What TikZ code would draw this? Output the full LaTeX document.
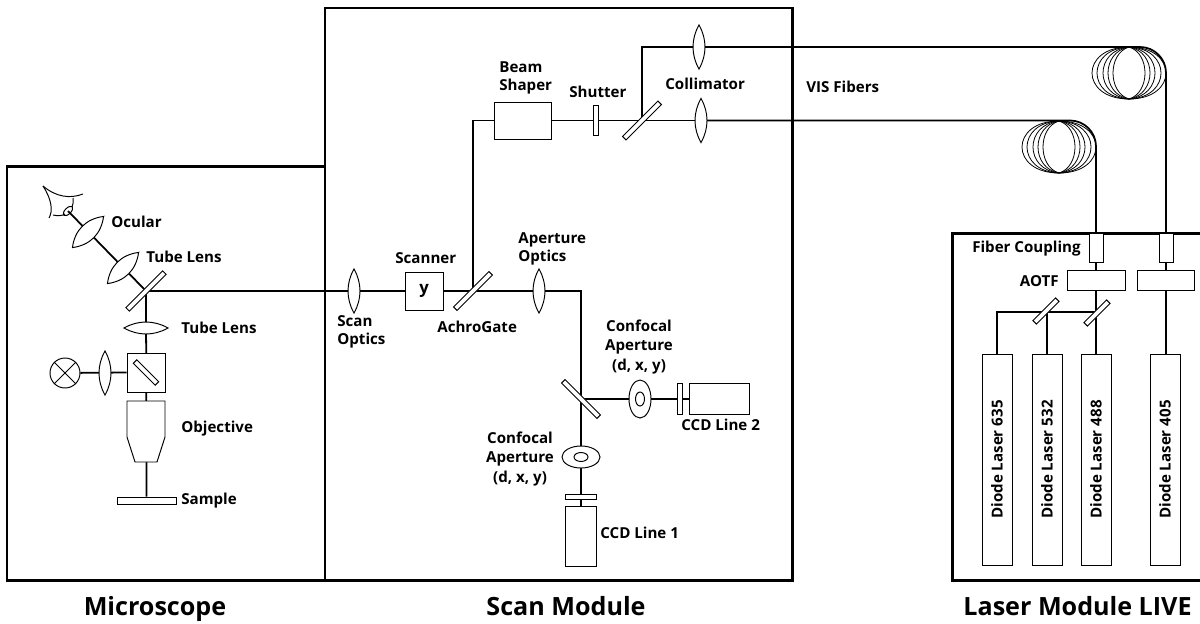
\documentclass[tikz,border=0pt]{standalone}
\usepackage{fontspec}
\setmainfont{Open Sans}
\usetikzlibrary{arrows.meta, positioning, backgrounds, shapes.geometric}
\newcommand{\pxu}{0.02cm}
\tikzset{
  frameline/.style={line width=1.7pt},
  beam/.style={line width=1pt},
  thinline/.style={line width=0.55pt},
  part/.style 2 args={draw, thinline, fill=white, rectangle, inner sep=0pt, minimum width=#1*\pxu, minimum height=#2*\pxu},
  mirror/.style={part={#1}{5}},
  label/.style={font=\fontsize{8.6}{10.3}\selectfont\bfseries, inner sep=0pt, anchor=west, align=left},
  tallabel/.style={font=\fontsize{8.6}{11.3}\selectfont\bfseries, inner sep=0pt, align=center},
  title/.style={font=\fontsize{14.3}{16}\selectfont\bfseries, inner sep=0pt, anchor=base},
  lens/.pic={
    \draw[thinline, fill=white] (0,-22) .. controls (8,-8) and (8,8) .. (0,22)
      .. controls (-8,8) and (-8,-8) .. cycle;
  },
  coil/.pic={
    \foreach \r in {16, 21, 26, 32, 37} {
      \pgfmathsetmacro{\a}{\r/0.75}
      \pgfmathsetmacro{\e}{(37-\r)*0.3}
      \draw[line width=0.45pt] (0,-26) .. controls (\a,-26+\e) and (\a,26-\e) .. (0,26)
        .. controls (-\a,26-\e) and (-\a,-26+\e) .. cycle;
    }
  }
}
\begin{document}
\begin{tikzpicture}[x=0.02cm, y=-0.02cm]
  \useasboundingbox (0,0) rectangle (1200,623);

  % Frames
  \draw[frameline] (7,580) rectangle (325,166);
  \draw[frameline] (325,580) rectangle (792,8);
  \draw[frameline] (1200,233) -- (952,233) -- (952,580) -- (1200,580);

  % Microscope
  \coordinate (eye) at (68,211);
  \coordinate (ocular) at (88,232);
  \coordinate (tubetop) at (123,268);
  \coordinate (tubelow) at (146,328);
  \coordinate (lamplens) at (105,373);
  \node[mirror=52, rotate=45] (mainmirror) at (146,291) {};
  \node[part={38}{39}] (cube) at (146,372.5) {};
  \node[mirror=31, rotate=-45] (cubemirror) at (cube) {};
  \node[draw, thinline, circle, inner sep=0pt, minimum size=30*\pxu] (lamp) at (65,373) {};
  \draw[thinline] (lamp.45) -- (lamp.225) (lamp.135) -- (lamp.-45);
  \node[part={59}{7}] (sample) at (146.5,500.5) {};
  \draw[thinline, fill=white] (127,401) -- (165,401) -- (165,437) -- (157,462) -- (135,462) -- (127,437) -- cycle;
  \pic[rotate=-45, xscale=1.35] at (ocular) {lens};
  \pic[rotate=-45, xscale=1.35] at (tubetop) {lens};
  \pic[rotate=90] at (tubelow) {lens};
  \pic at (lamplens) {lens};

  % Eye
  \draw[thinline] (43,186) .. controls (56,197) and (70,199) .. (83,194);
  \draw[thinline] (43,186) .. controls (52,200) and (53,211) .. (49,218);
  \draw[thinline] (53,215) .. controls (57,216) and (62,216) .. (65,214);
  \draw[thinline] (73,198) .. controls (74,201) and (73,204) .. (72,207);
  \draw[thinline, rotate around={45:(eye)}] (eye) ellipse [x radius=6, y radius=3];

  % Scan Module
  \coordinate (scanoptics) at (354,291);
  \coordinate (apoptics) at (539,291);
  \coordinate (colltop) at (699,47);
  \coordinate (colllow) at (701,120.5);
  \coordinate (cornerbeam) at (581,291);
  \node[part={38}{38}, font=\fontsize{9.5}{10}\selectfont\bfseries] (scanner) at (424,291) {y};
  \node[mirror=50, rotate=45] (achro) at (473,291) {};
  \node[part={57}{37}] (shaper) at (522.5,120.5) {};
  \node[part={5}{30}] (shutter) at (595.5,120.5) {};
  \node[mirror=50, rotate=45] (vismirror) at (642,120.5) {};
  \node[mirror=50, rotate=-45] (split) at (581,399) {};
  \node[part={5}{31}] (shuttertwo) at (679.5,399) {};
  \node[part={60}{31}] (ccdtwo) at (719,399) {};
  \node[part={31}{5}] (shutterone) at (581,496.5) {};
  \node[part={31}{60}] (ccdone) at (581,536) {};
  \node[draw, thinline, fill=white, ellipse, inner sep=0pt, minimum width=22*\pxu, minimum height=38*\pxu] (apertwo) at (640,399) {};
  \node[draw, thinline, ellipse, inner sep=0pt, minimum width=9*\pxu, minimum height=14*\pxu] (apertwoin) at (apertwo) {};
  \node[draw, thinline, fill=white, ellipse, inner sep=0pt, minimum width=38*\pxu, minimum height=22*\pxu] (aperone) at (581,457) {};
  \node[draw, thinline, ellipse, inner sep=0pt, minimum width=14*\pxu, minimum height=9*\pxu] (aperonein) at (aperone) {};
  \pic at (scanoptics) {lens};
  \pic at (apoptics) {lens};
  \pic at (colltop) {lens};
  \pic at (colllow) {lens};

  % Fiber coils
  \pic at (1129,73) {coil};
  \pic at (1059,147) {coil};

  % Laser Module
  \node[part={14}{29}] (couplingone) at (1096,247.5) {};
  \node[part={14}{29}] (couplingtwo) at (1166,247.5) {};
  \node[part={58}{20}] (aotfone) at (1096,280) {};
  \node[part={57}{20}] (aotftwo) at (1165.5,280) {};
  \node[mirror=32, rotate=45] (lasermirrorone) at (1097,313) {};
  \node[mirror=32, rotate=45] (lasermirrortwo) at (1046,311) {};
  \foreach \name/\x/\txt in {laserone/997/635, lasertwo/1047/532, laserthree/1096/488, laserfour/1165/405} {
    \node[part={30}{211}] (\name) at (\x,459.5) {};
    \node[label, anchor=center, rotate=90] (\name text) at (\x,459.5) {Diode Laser \txt};
  }
  \coordinate (bendlaser) at (997,312);

  % Beams
  \begin{pgfonlayer}{background}
    \draw[beam] (eye) -- (mainmirror.center);
    \draw[beam] (mainmirror.center) -- (sample.north);
    \draw[beam] (lamp) -- (cube.west);
    \draw[beam] (mainmirror.center) -- (scanoptics) -- (scanner);
    \draw[beam] (scanner) -- (achro.center);
    \draw[beam] (achro.center) -- (apoptics) -- (cornerbeam) -- (ccdone.north);
    \draw[beam] (achro.center) |- (shaper.west);
    \draw[beam] (shaper.east) -- (shutter) -- (vismirror.center);
    \draw[beam] (vismirror.center) |- (colltop);
    \draw[beam] (vismirror.center) -- (colllow);
    \draw[beam] (split.center) -- (apertwo) -- (shuttertwo) -- (ccdtwo.west);
    \draw[beam, rounded corners=0.52cm] (colltop) -| (couplingtwo.north);
    \draw[beam, rounded corners=0.52cm] (colllow) -| (couplingone.north);
    \draw[beam] (couplingone.south) -- (aotfone.north);
    \draw[beam] (couplingtwo.south) -- (couplingtwo |- aotftwo.north);
    \draw[beam] (aotfone.south) -- (laserthree.north);
    \draw[beam] (couplingtwo |- aotftwo.south) -- (couplingtwo |- laserfour.north);
    \draw[beam] (laserthree |- bendlaser) -- (bendlaser) -- (laserone.north);
    \draw[beam] (lasertwo |- bendlaser) -- (lasertwo.north);
  \end{pgfonlayer}

  % Labels
  \node[label] (ocularlabel) at (111,222) {Ocular};
  \node[label] (tubetoplabel) at (146,257) {Tube Lens};
  \node[label] (tubelowlabel) at (181,328) {Tube Lens};
  \node[label] (objlabel) at (181,429) {Objective};
  \node[label] (samplelabel) at (181,501) {Sample};
  \node[label] (scanoptlabel) at (337,332) {Scan\\Optics};
  \node[label] (scannerlabel) at (395,258) {Scanner};
  \node[label] (achrolabel) at (437,327) {AchroGate};
  \node[label] (apoptlabel) at (518,249) {Aperture\\Optics};
  \node[label] (shaperlabel) at (499,78) {Beam\\Shaper};
  \node[label] (shutterlabel) at (569,92) {Shutter};
  \node[label] (colllabel) at (665,84) {Collimator};
  \node[label] (vislabel) at (806,87) {VIS Fibers};
  \node[tallabel] (confocaltwo) at (639,347) {Confocal\\Aperture\\(d, x, y)};
  \node[tallabel] (confocalone) at (520,459) {Confocal\\Aperture\\(d, x, y)};
  \node[label] (ccdtwolabel) at (681,425) {CCD Line 2};
  \node[label] (ccdonelabel) at (600,533) {CCD Line 1};
  \node[label, anchor=east] (couplinglabel) at (1081,249) {Fiber Coupling};
  \node[label, anchor=east] (aotflabel) at (1059,281) {AOTF};

  \node[title] (microtitle) at (155,615) {Microscope};
  \node[title] (scantitle) at (566,615) {Scan Module};
  \node[title] (lasertitle) at (1077.5,615) {Laser Module LIVE};
\end{tikzpicture}
\end{document}
